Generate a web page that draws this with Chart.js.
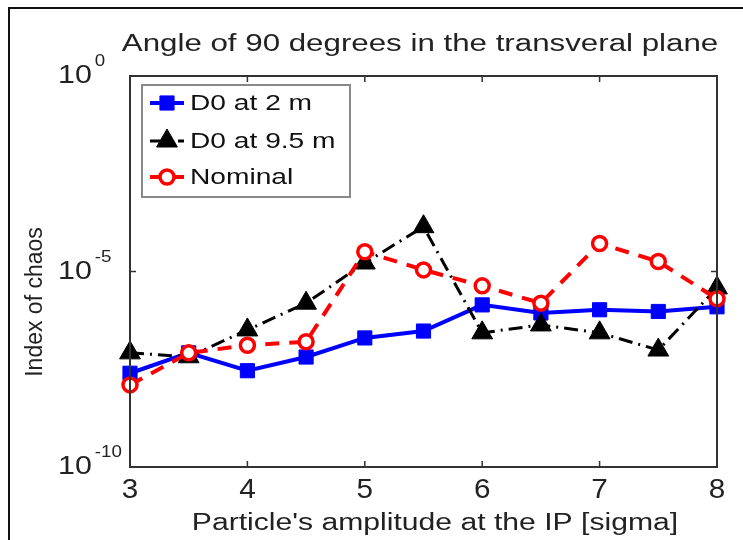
<!DOCTYPE html>
<html>
<head>
    <title>Angle of 90 degrees in the transveral plane</title>
    <script src="https://cdn.jsdelivr.net/npm/chart.js@4.4.1/dist/chart.umd.min.js"></script>
</head>
<body style="margin: 0; background-color: white;">
    <div style="width: 743px; height: 540px;">
        <canvas id="myChart" width="743" height="540"></canvas>
    </div>
    <script>
        // Amplitud de la particula (sigma)
        const amplitudes = [3, 3.5, 4, 4.5, 5, 5.5, 6, 6.5, 7, 7.5, 8];
        // Indice de caos
        const d0At2m   = [2.5e-8, 8.3e-8, 2.9e-8, 6.5e-8, 2.0e-7, 3.0e-7, 1.4e-6, 8.7e-7, 1.05e-6, 9.5e-7, 1.25e-6];
        const d0At9_5m = [8.3e-8, 6.6e-8, 3.2e-7, 1.55e-6, 1.65e-5, 1.4e-4, 2.7e-7, 4.3e-7, 2.7e-7, 9.8e-8, 3.8e-6];
        const nominal  = [1.26e-8, 8.3e-8, 1.3e-7, 1.6e-7, 3.2e-5, 1.1e-5, 4.3e-6, 1.55e-6, 5.2e-5, 1.8e-5, 2.0e-6];
        const seriesNames = ['D0 at 2 m', 'D0 at 9.5 m', 'Nominal'];
        const xTicks = [3, 4, 5, 6, 7, 8];
        const yTickExponents = [-10, -5, 0];

        const FONT = '"Liberation Sans", Arial, Helvetica, sans-serif';

        function toPoints(values) {
            return values.map((v, i) => ({ x: amplitudes[i], y: v }));
        }

        // texto estirado en horizontal (la figura original esta ensanchada)
        function wideText(c, text, x, y, size, sx, align) {
            c.save();
            c.translate(x, y);
            c.scale(sx, 1);
            c.font = size + 'px ' + FONT;
            c.textAlign = align || 'left';
            c.fillText(text, 0, 0);
            c.restore();
        }

        // Marco exterior, caja de ejes, textos y leyenda
        const matlabStyle = {
            id: 'matlabStyle',
            beforeDraw(chart) {
                const c = chart.ctx;
                c.save();
                c.fillStyle = 'white';
                c.fillRect(0, 0, chart.width, chart.height);
                c.strokeStyle = '#111';
                c.lineWidth = 2;
                c.beginPath();
                c.moveTo(9, chart.height);
                c.lineTo(9, 8);
                c.lineTo(chart.width, 8);
                c.stroke();
                c.restore();
            },
            afterDatasetsDraw(chart) {
                const c = chart.ctx;
                const a = chart.chartArea;
                const xs = chart.scales.x, ys = chart.scales.y;
                c.save();
                c.strokeStyle = '#333';
                c.lineWidth = 2;
                c.strokeRect(a.left, a.top, a.right - a.left, a.bottom - a.top);
                // marcas hacia dentro
                c.lineWidth = 1.5;
                c.beginPath();
                xTicks.forEach(t => {
                    const px = xs.getPixelForValue(t);
                    c.moveTo(px, a.bottom); c.lineTo(px, a.bottom - 6);
                    c.moveTo(px, a.top); c.lineTo(px, a.top + 6);
                });
                yTickExponents.forEach(e => {
                    const py = ys.getPixelForValue(Math.pow(10, e));
                    c.moveTo(a.left, py); c.lineTo(a.left + 6, py);
                    c.moveTo(a.right, py); c.lineTo(a.right - 6, py);
                });
                c.stroke();

                c.fillStyle = '#222';
                c.textBaseline = 'middle';

                // etiquetas del eje x
                xTicks.forEach(t => {
                    wideText(c, String(t), xs.getPixelForValue(t), a.bottom + 24, 27, 1.1, 'center');
                });

                // etiquetas 10^n
                yTickExponents.forEach(e => {
                    const py = ys.getPixelForValue(Math.pow(10, e));
                    c.font = '26px ' + FONT;
                    const w = c.measureText('10').width * 1.17;
                    wideText(c, '10', 58, py, 26, 1.17);
                    wideText(c, String(e), 58 + w + 3, py - 14, 16, 1.17);
                });

                // titulos
                c.textBaseline = 'alphabetic';
                wideText(c, 'Angle of 90 degrees in the transveral plane', 420, 51, 23, 1.36, 'center');
                wideText(c, "Particle's amplitude at the IP [sigma]", 435, 530, 23, 1.31, 'center');
                c.save();
                c.translate(42, 302);
                c.rotate(-Math.PI / 2);
                c.textAlign = 'center';
                c.font = '23px ' + FONT;
                c.fillText('Index of chaos', 0, 0);
                c.restore();

                // leyenda
                const bx = 142, by = 85, bw = 208, bh = 112;
                c.fillStyle = 'white';
                c.fillRect(bx, by, bw, bh);
                c.strokeStyle = '#888';
                c.lineWidth = 2;
                c.strokeRect(bx, by, bw, bh);
                const rows = [103, 141, 177];
                chart.data.datasets.forEach((ds, i) => {
                    const y = rows[i];
                    c.save();
                    c.strokeStyle = ds.borderColor;
                    c.lineWidth = ds.borderWidth;
                    c.setLineDash(ds.borderDash || []);
                    c.beginPath();
                    c.moveTo(150, y); c.lineTo(184, y);
                    c.stroke();
                    c.setLineDash([]);
                    c.fillStyle = ds.pointBackgroundColor;
                    c.strokeStyle = ds.pointBorderColor;
                    c.lineWidth = ds.pointBorderWidth;
                    Chart.helpers.drawPoint(c, {
                        pointStyle: ds.pointStyle,
                        radius: ds.pointRadius,
                        rotation: 0,
                        borderWidth: ds.pointBorderWidth
                    }, 167, y);
                    c.restore();
                    c.fillStyle = '#111';
                    c.textBaseline = 'middle';
                    wideText(c, ds.label, 190, y + 1, 22, 1.28);
                });
                c.restore();
            }
        };

        const ctx = document.getElementById('myChart').getContext('2d');
        new Chart(ctx, {
            type: 'line',
            data: {
                datasets: [{
                    label: seriesNames[0],
                    data: toPoints(d0At2m),
                    borderColor: '#0000ff',
                    borderWidth: 4,
                    pointStyle: 'rect',
                    pointRadius: 10,
                    pointBackgroundColor: '#0000ff',
                    pointBorderColor: '#0000ff',
                    pointBorderWidth: 1,
                    tension: 0,
                    clip: false,
                    order: 2
                }, {
                    label: seriesNames[1],
                    data: toPoints(d0At9_5m),
                    borderColor: '#000000',
                    borderWidth: 3,
                    borderDash: [14, 6, 2, 6],
                    pointStyle: 'triangle',
                    pointRadius: 12,
                    pointBackgroundColor: '#000000',
                    pointBorderColor: '#000000',
                    pointBorderWidth: 1,
                    tension: 0,
                    clip: false,
                    order: 1
                }, {
                    label: seriesNames[2],
                    data: toPoints(nominal),
                    borderColor: '#ff0000',
                    borderWidth: 4,
                    borderDash: [14, 10],
                    pointStyle: 'circle',
                    pointRadius: 7,
                    pointBackgroundColor: '#ffffff',
                    pointBorderColor: '#ff0000',
                    pointBorderWidth: 3.5,
                    tension: 0,
                    clip: false,
                    order: 0
                }]
            },
            options: {
                responsive: false,
                animation: false,
                layout: { padding: { left: 9, right: 26, top: 76, bottom: 0 } },
                scales: {
                    x: {
                        type: 'linear',
                        min: 3,
                        max: 8,
                        afterBuildTicks: s => { s.ticks = xTicks.map(v => ({ value: v })); },
                        afterFit: s => { s.height = 73; },
                        grid: { display: false, drawTicks: false },
                        border: { display: false },
                        ticks: { display: false }
                    },
                    y: {
                        type: 'logarithmic',
                        min: 1e-10,
                        max: 1,
                        afterBuildTicks: s => { s.ticks = yTickExponents.map(e => ({ value: Math.pow(10, e) })); },
                        afterFit: s => { s.width = 121; },
                        grid: { display: false, drawTicks: false },
                        border: { display: false },
                        ticks: { display: false }
                    }
                },
                plugins: {
                    legend: { display: false },
                    tooltip: { enabled: false }
                }
            },
            plugins: [matlabStyle]
        });
    </script>
</body>
</html>
